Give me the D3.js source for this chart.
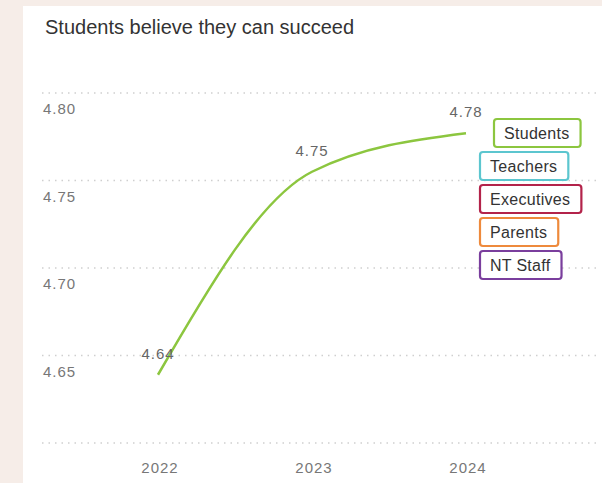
<!DOCTYPE html>
<html>
<head>
<meta charset="utf-8">
<script src="https://cdn.jsdelivr.net/npm/d3@7"></script>
<style>
  html, body { margin: 0; padding: 0; background: #f6ede8; }
  svg { display: block; font-family: "Liberation Sans", Arial, sans-serif; }
</style>
</head>
<body>
<div id="chart"></div>
<script>
var years = [2022, 2023, 2024];
var studentScores = [4.639, 4.755, 4.777];
var yTicks = [4.60, 4.65, 4.70, 4.75, 4.80];
var legendNames = ['Students', 'Teachers', 'Executives', 'Parents', 'NT Staff'];
var legendColors = ['#8cc63f', '#5cc6cf', '#b3234a', '#ee8a3c', '#7a3e9d'];

var width = 602, height = 483;

var svg = d3.select('#chart').append('svg')
  .attr('width', width)
  .attr('height', height);

// white card
svg.append('rect')
  .attr('x', 23).attr('y', 6)
  .attr('width', width - 23).attr('height', height - 6)
  .attr('fill', '#ffffff');

svg.append('text')
  .attr('x', 45).attr('y', 34)
  .attr('font-size', 20)
  .attr('fill', '#333')
  .text('Students believe they can succeed');

var x = d3.scaleLinear().domain([2022, 2024]).range([158, 466]);
var y = d3.scaleLinear().domain([4.60, 4.80]).range([443, 93]);

// grid + y labels
var grid = svg.append('g');
grid.selectAll('line')
  .data(yTicks)
  .enter()
  .append('line')
  .attr('x1', 42).attr('x2', 598)
  .attr('y1', function (d) { return y(d); })
  .attr('y2', function (d) { return y(d); })
  .attr('stroke', '#cfcfcf')
  .attr('stroke-width', 1.3)
  .attr('stroke-dasharray', '1.5,5');

grid.selectAll('text')
  .data(yTicks.filter(function (d) { return d > 4.6; }))
  .enter()
  .append('text')
  .attr('x', 43)
  .attr('y', function (d) { return y(d) + 21; })
  .attr('font-size', 15)
  .attr('letter-spacing', 1)
  .attr('fill', '#777')
  .text(function (d) { return d.toFixed(2); });

// x axis labels
svg.append('g').selectAll('text')
  .data(years)
  .enter()
  .append('text')
  .attr('x', function (d) { return x(d) + 2; })
  .attr('y', 473)
  .attr('text-anchor', 'middle')
  .attr('font-size', 15)
  .attr('letter-spacing', 1)
  .attr('fill', '#777')
  .text(function (d) { return d; });

var pts = years.map(function (yr, i) { return [yr, studentScores[i]]; });

var line = d3.line()
  .x(function (d) { return x(d[0]); })
  .y(function (d) { return y(d[1]); })
  .curve(d3.curveMonotoneX);

svg.append('path')
  .datum(pts)
  .attr('d', line)
  .attr('fill', 'none')
  .attr('stroke', '#8cc63f')
  .attr('stroke-width', 2.5);

svg.append('g').selectAll('text')
  .data(pts)
  .enter()
  .append('text')
  .attr('x', function (d) { return x(d[0]); })
  .attr('y', function (d) { return y(d[1]) - 16; })
  .attr('text-anchor', 'middle')
  .attr('font-size', 15)
  .attr('letter-spacing', 1)
  .attr('fill', '#666')
  .text(function (d) { return d[1].toFixed(2); });

// legend
var legend = svg.append('g');
legendNames.forEach(function (name, i) {
  var g = legend.append('g')
    .attr('transform', 'translate(' + (i === 0 ? 494 : 480) + ',' + (119 + i * 33) + ')');
  var t = g.append('text')
    .attr('x', 10).attr('y', 19.5)
    .attr('font-size', 16)
    .attr('letter-spacing', 0.3)
    .attr('fill', '#333')
    .text(name);
  var w = t.node().getComputedTextLength() + 21;
  g.insert('rect', 'text')
    .attr('width', w).attr('height', 28)
    .attr('rx', 3)
    .attr('fill', '#fff')
    .attr('stroke', legendColors[i])
    .attr('stroke-width', 2.2);
});
</script>
</body>
</html>
